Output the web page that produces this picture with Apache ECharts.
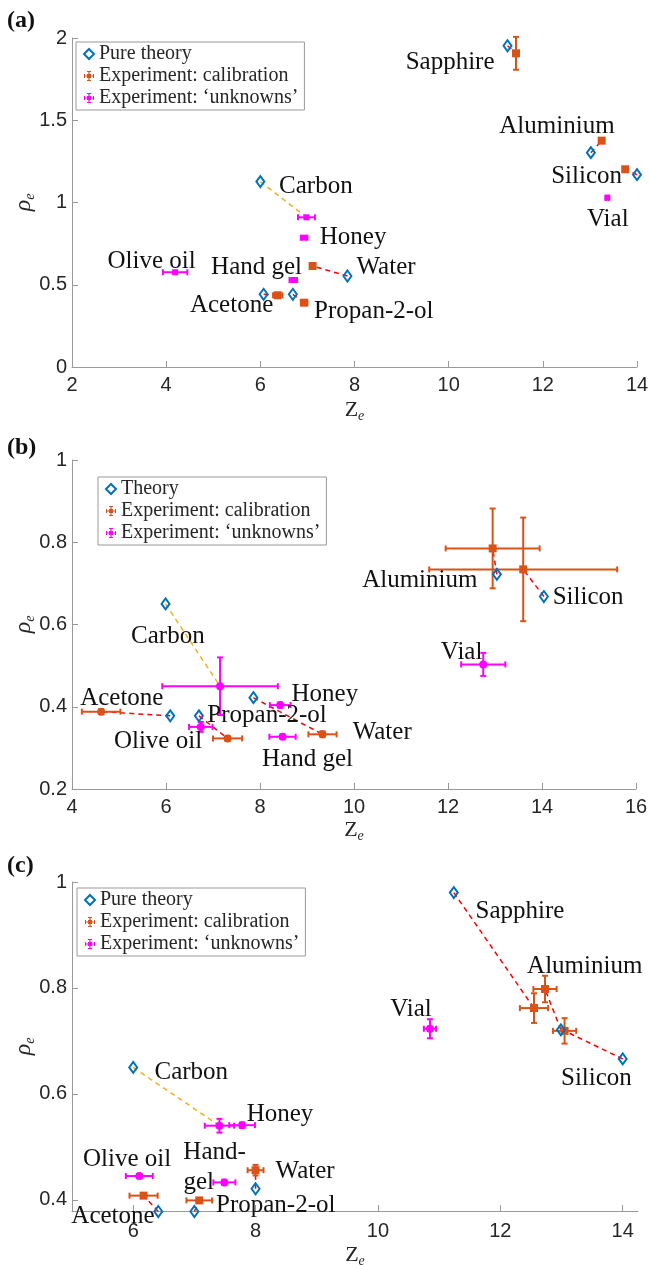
<!DOCTYPE html>
<html>
<head>
<meta charset="utf-8">
<script src="https://cdn.jsdelivr.net/npm/echarts@6/dist/echarts.min.js"></script>
<style>
html, body { margin: 0; padding: 0; background: #fff; }
#chart { width: 649px; height: 1265px; }
</style>
</head>
<body>
<div id="chart"></div>
<script>
// values are [Z_e, rho_e] for theory, [Z_e, rho_e, errZ, errRho] for experiments
// panel (a)
const theoryA = [[11.25, 1.953], [13.02, 1.303], [14.0, 1.169], [7.85, 0.553], [6.07, 0.442], [6.69, 0.442], [6.0, 1.127]];
const calibA = [[11.43, 1.907, 0.04, 0.10], [13.25, 1.376, 0, 0], [13.75, 1.202, 0, 0], [7.11, 0.614, 0.05, 0], [6.37, 0.436, 0.1, 0], [6.93, 0.391, 0.07, 0]];
const unknownA = [[6.98, 0.91, 0.18, 0], [6.93, 0.786, 0.07, 0], [6.70, 0.529, 0.08, 0], [4.19, 0.576, 0.26, 0], [13.37, 1.029, 0.03, 0]];
const labelsA = [
  ['Sapphire', 10.03, 1.854], ['Aluminium', 12.30, 1.461], ['Silicon', 12.93, 1.157], ['Vial', 13.38, 0.894],
  ['Carbon', 7.18, 1.10], ['Honey', 7.97, 0.786], ['Water', 8.67, 0.608], ['Hand gel', 5.92, 0.606],
  ['Olive oil', 3.69, 0.644], ['Acetone', 5.39, 0.373], ['Propan-2-ol', 8.41, 0.336]
];

// panel (b)
const theoryB = [[13.04, 0.722], [14.04, 0.668], [7.86, 0.422], [6.09, 0.378], [6.70, 0.378], [5.99, 0.650]];
const calibB = [[12.95, 0.785, 1.0, 0.097], [13.6, 0.734, 2.0, 0.126], [9.33, 0.333, 0.3, 0.007], [4.62, 0.388, 0.41, 0.006], [7.31, 0.323, 0.31, 0.006]];
const unknownB = [[7.15, 0.450, 1.23, 0.07], [8.43, 0.404, 0.22, 0.006], [6.74, 0.351, 0.25, 0.012], [8.48, 0.327, 0.28, 0.005], [12.75, 0.503, 0.47, 0.028]];
const labelsB = [
  ['Aluminium', 11.40, 0.707], ['Silicon', 14.98, 0.666], ['Carbon', 6.04, 0.570], ['Acetone', 5.06, 0.421],
  ['Honey', 9.38, 0.429], ['Propan-2-ol', 8.15, 0.378], ['Olive oil', 5.83, 0.315], ['Hand gel', 9.01, 0.271],
  ['Water', 10.60, 0.338], ['Vial', 12.29, 0.531]
];

// panel (c)
const theoryC = [[11.24, 0.980], [12.99, 0.721], [14.0, 0.666], [8.0, 0.421], [6.41, 0.378], [7.0, 0.378], [6.0, 0.650]];
const calibC = [[12.55, 0.762, 0.23, 0.028], [12.73, 0.798, 0.19, 0.025], [13.05, 0.719, 0.19, 0.024], [8.0, 0.456, 0.13, 0.01], [6.17, 0.408, 0.23, 0.004], [7.08, 0.399, 0.21, 0.004]];
const unknownC = [[7.41, 0.540, 0.24, 0.013], [7.78, 0.541, 0.21, 0.005], [6.10, 0.445, 0.22, 0.004], [7.49, 0.433, 0.18, 0.005], [10.85, 0.723, 0.1, 0.018]];
const labelsC = [
  ['Carbon', 6.95, 0.641], ['Honey', 8.40, 0.562], ['Olive oil', 5.90, 0.476], ['Hand-', 7.33, 0.489], ['gel', 7.07, 0.432],
  ['Water', 8.81, 0.453], ['Propan-2-ol', 8.33, 0.389], ['Acetone', 5.67, 0.369], ['Sapphire', 12.32, 0.945],
  ['Aluminium', 13.38, 0.840], ['Vial', 10.54, 0.759], ['Silicon', 13.57, 0.629]
];

const BLUE = '#0072BD', ORANGE = '#D95319', MAGENTA = '#FF00FF', RED = '#FF0000', YELLOW = '#EDB120';
const AXIS = '#999';
const SERIF = 'Liberation Serif';
const CAL = 'Experiment: calibration', UNK = 'Experiment: \u2018unknowns\u2019';
const errIcon = 'path://M0,4.4h10v1.2h-10z M4.4,0h1.2v10h-1.2z M0,3h1v4h-1z M9,3h1v4h-1z M3,0h4v1h-4z M3,9h4v1h-4z M3,3h4v4h-4z';

function errBars(gi, data, color) {
  return {
    type: 'custom', xAxisIndex: gi, yAxisIndex: gi, z: 2, silent: true,
    encode: { x: 0, y: 1 }, data: data,
    renderItem(params, api) {
      const x = api.value(0), y = api.value(1), ex = api.value(2), ey = api.value(3);
      const cap = 3, kids = [];
      const ln = (x1, y1, x2, y2) => kids.push({ type: 'line', shape: { x1, y1, x2, y2 }, style: { stroke: color, lineWidth: 2 } });
      if (ex > 0) {
        const l = api.coord([x - ex, y]), r = api.coord([x + ex, y]);
        ln(l[0], l[1], r[0], r[1]);
        ln(l[0], l[1] - cap, l[0], l[1] + cap);
        ln(r[0], r[1] - cap, r[0], r[1] + cap);
      }
      if (ey > 0) {
        const t = api.coord([x, y + ey]), b = api.coord([x, y - ey]);
        ln(t[0], t[1], b[0], b[1]);
        ln(t[0] - cap, t[1], t[0] + cap, t[1]);
        ln(b[0] - cap, b[1], b[0] + cap, b[1]);
      }
      return { type: 'group', children: kids };
    }
  };
}

function links(gi, data, color) {
  return {
    type: 'custom', xAxisIndex: gi, yAxisIndex: gi, z: 1, silent: true,
    encode: { x: [0, 2], y: [1, 3] }, data: data,
    renderItem(params, api) {
      const a = api.coord([api.value(0), api.value(1)]);
      const b = api.coord([api.value(2), api.value(3)]);
      return { type: 'line', shape: { x1: a[0], y1: a[1], x2: b[0], y2: b[1] },
        style: { stroke: color, lineWidth: 1.5, lineDash: [5, 4] } };
    }
  };
}

function texts(gi, labels) {
  return {
    type: 'custom', xAxisIndex: gi, yAxisIndex: gi, z: 6, silent: true, clip: false,
    encode: { x: 0, y: 1 }, data: labels.map(l => [l[1], l[2]]),
    renderItem(params, api) {
      const p = api.coord([api.value(0), api.value(1)]);
      return { type: 'text', x: p[0], y: p[1],
        style: { text: labels[params.dataIndex][0], fill: '#111', fontFamily: SERIF, fontSize: 25,
          align: 'center', verticalAlign: 'middle' } };
    }
  };
}

function panelSeries(gi, theoryName, theory, calib, unknown, labels, calSym, unkSym) {
  const carbon = theory[theory.length - 1];
  return [
    links(gi, calib.map((c, k) => [theory[k][0], theory[k][1], c[0], c[1]]), RED),
    links(gi, [[carbon[0], carbon[1], unknown[0][0], unknown[0][1]]], YELLOW),
    errBars(gi, calib, ORANGE),
    errBars(gi, unknown, MAGENTA),
    { name: CAL, type: 'scatter', xAxisIndex: gi, yAxisIndex: gi, z: 3, clip: false, data: calib.map(c => [c[0], c[1]]),
      symbol: calSym, symbolSize: 8, itemStyle: { color: ORANGE, opacity: 1 } },
    { name: UNK, type: 'scatter', xAxisIndex: gi, yAxisIndex: gi, z: 3, clip: false, data: unknown.map(c => [c[0], c[1]]),
      symbol: unkSym, symbolSize: gi === 0 ? 6 : 8, itemStyle: { color: MAGENTA, opacity: 1 } },
    { name: theoryName, type: 'scatter', xAxisIndex: gi, yAxisIndex: gi, z: 4, clip: false, data: theory,
      symbol: 'diamond', symbolSize: [8, 11], itemStyle: { color: 'rgba(255,255,255,0)', borderColor: BLUE, borderWidth: 2, opacity: 1 } },
    texts(gi, labels)
  ];
}

function xAx(gi, min, max, ticks, gap, margin) {
  return {
    gridIndex: gi, type: 'value', min: min, max: max,
    name: '{z|Z}{s|e}', nameLocation: 'middle', nameGap: gap, nameMoveOverlap: false,
    nameTextStyle: { rich: {
      z: { fontFamily: SERIF, fontSize: 22, lineHeight: 26, color: '#262626' },
      s: { fontFamily: SERIF, fontStyle: 'italic', fontSize: 14, lineHeight: 14, verticalAlign: 'bottom', color: '#262626' } } },
    axisLine: { show: true, onZero: false, lineStyle: { color: AXIS, width: 1 } },
    axisTick: { show: true, inside: true, length: 6, customValues: ticks, lineStyle: { color: AXIS } },
    axisLabel: { customValues: ticks, color: '#262626', fontFamily: 'Liberation Sans', fontSize: 20, margin: margin },
    splitLine: { show: false }
  };
}

function yAx(gi, min, max, ticks) {
  return {
    gridIndex: gi, type: 'value', min: min, max: max,
    name: '{r|\u03c1}{s|e}', nameLocation: 'middle', nameGap: 35, nameMoveOverlap: false,
    nameTextStyle: { rich: {
      r: { fontFamily: SERIF, fontStyle: 'italic', fontSize: 24, lineHeight: 26, color: '#262626' },
      s: { fontFamily: SERIF, fontStyle: 'italic', fontSize: 14, lineHeight: 14, verticalAlign: 'bottom', color: '#262626' } } },
    axisLine: { show: true, onZero: false, lineStyle: { color: AXIS, width: 1 } },
    axisTick: { show: true, inside: true, length: 6, customValues: ticks, lineStyle: { color: AXIS } },
    axisLabel: { customValues: ticks, color: '#262626', fontFamily: 'Liberation Sans', fontSize: 20, margin: 5 },
    splitLine: { show: false }
  };
}

function legendAt(left, top, theoryName) {
  return {
    orient: 'vertical', left: left, top: top, selectedMode: false,
    padding: [1, 6, 1, 7], itemGap: 0, itemWidth: 10, itemHeight: 10,
    borderColor: AXIS, borderWidth: 1, borderRadius: 0, backgroundColor: '#fff',
    textStyle: { fontFamily: SERIF, fontSize: 20, lineHeight: 22, color: '#262626' },
    data: [
      { name: theoryName, icon: 'diamond', itemStyle: { color: '#fff', borderColor: BLUE, borderWidth: 2 } },
      { name: CAL, icon: errIcon, itemStyle: { color: ORANGE, borderWidth: 0 } },
      { name: UNK, icon: errIcon, itemStyle: { color: MAGENTA, borderWidth: 0 } }
    ]
  };
}

const titleStyle = { fontFamily: SERIF, fontWeight: 'bold', fontSize: 24, color: '#111' };

const chart = echarts.init(document.getElementById('chart'), null, { renderer: 'canvas' });
chart.setOption({
  animation: false,
  backgroundColor: '#fff',
  title: [
    { text: '(a)', left: 7, top: 9, padding: 0, textStyle: titleStyle },
    { text: '(b)', left: 7, top: 436, padding: 0, textStyle: titleStyle },
    { text: '(c)', left: 7, top: 854, padding: 0, textStyle: titleStyle }
  ],
  grid: [
    { left: 72, top: 38, width: 565, height: 329, outerBoundsMode: 'none', containLabel: false },
    { left: 72, top: 460, width: 564, height: 329, outerBoundsMode: 'none', containLabel: false },
    { left: 72, top: 882, width: 566, height: 329, outerBoundsMode: 'none', containLabel: false }
  ],
  xAxis: [
    xAx(0, 2, 14, [2, 4, 6, 8, 10, 12, 14], 30, 8),
    xAx(1, 4, 16, [4, 6, 8, 10, 12, 14, 16], 28, 8),
    xAx(2, 5, 14.25, [6, 8, 10, 12, 14], 31, 10)
  ],
  yAxis: [
    yAx(0, 0, 2, [0, 0.5, 1, 1.5, 2]),
    yAx(1, 0.2, 1, [0.2, 0.4, 0.6, 0.8, 1]),
    yAx(2, 0.379, 1, [0.4, 0.6, 0.8, 1])
  ],
  legend: [
    legendAt(76, 42, 'Pure theory'),
    legendAt(98, 477, 'Theory'),
    legendAt(77, 888, 'Pure theory')
  ],
  series: [].concat(
    panelSeries(0, 'Pure theory', theoryA, calibA, unknownA, labelsA, 'rect', 'rect'),
    panelSeries(1, 'Theory', theoryB, calibB, unknownB, labelsB,
      (v, p) => (p.dataIndex < 2 ? 'rect' : 'circle'), 'circle'),
    panelSeries(2, 'Pure theory', theoryC, calibC, unknownC, labelsC, 'rect', 'circle')
  )
});
</script>
</body>
</html>
